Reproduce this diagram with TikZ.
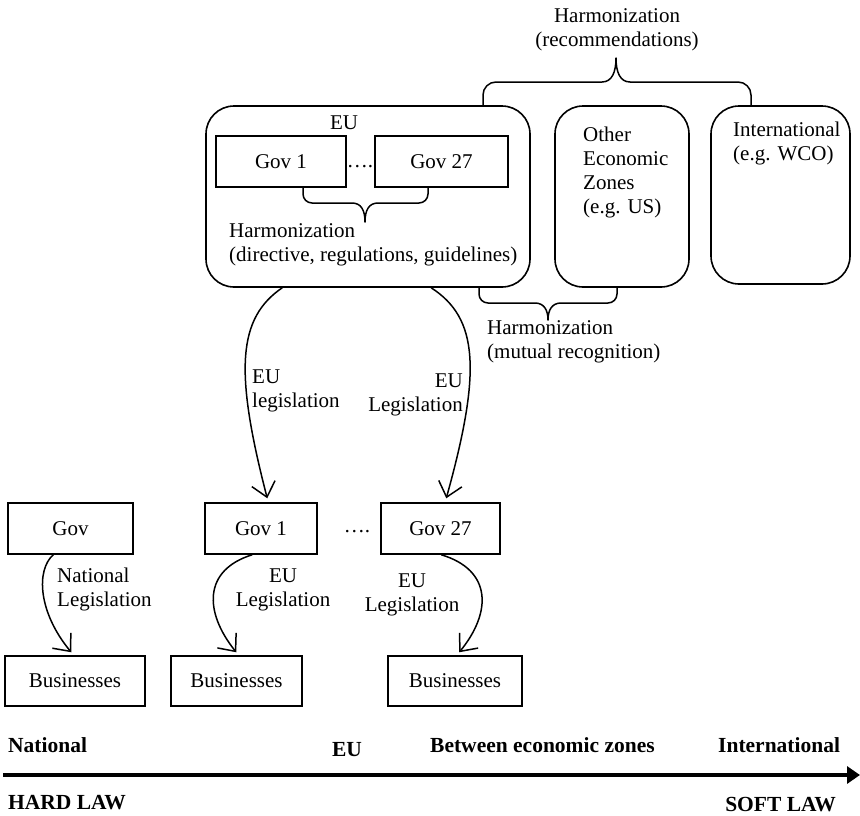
\documentclass[tikz,border=0pt]{standalone}
\usepackage{fontspec}
\setmainfont{Liberation Serif}
\usetikzlibrary{arrows.meta,calc}
\begin{document}
\begin{tikzpicture}[x=1pt,y=-1pt,
  font=\fontsize{21}{24}\selectfont,
  box/.style={draw,line width=1.5pt,inner sep=0pt,minimum height=51pt},
  zone/.style={draw,line width=1.6pt,rounded corners=28pt,inner sep=0pt},
  lbl/.style={inner sep=0pt},
  bl/.style={inner sep=0pt,font=\fontsize{21.5}{24}\selectfont\bfseries},
  brace/.style={line width=1.5pt,line cap=round,line join=round},
  legarrow/.style={line width=1.5pt,-{Straight Barb[length=14pt,width=24pt,line width=1.5pt]}}]
\useasboundingbox (0,0) rectangle (860,815);
% top zones
\node[zone,minimum width=324pt,minimum height=181pt] (eu) at (368,196.5) {};
\node[zone,minimum width=134pt,minimum height=181pt] (other) at (622,196.5) {};
\node[zone,minimum width=139pt,minimum height=178pt] (intl) at (780.5,195) {};
\node[lbl] (eulbl) at (344,123) {EU};
\node[box,minimum width=130pt] (g1) at (281,161.5) {Gov 1};
\node[box,minimum width=133pt] (g27) at (441.5,161.5) {Gov 27};
\node[lbl,anchor=base] (dotsA) at (360,167) {….};
\node[lbl,anchor=west,align=left] (harmEU) at (229,245) {Harmonization\\(directive, regulations, guidelines)};
\node[lbl,anchor=west,align=left] (othertxt) at (583,172) {Other\\Economic\\Zones\\(e.g. US)};
\node[lbl,anchor=west,align=left] (intltxt) at (733,143.5) {International\\(e.g. WCO)};
\node[lbl,align=center] (harmtop) at (617,29.5) {Harmonization\\(recommendations)};
\node[lbl,anchor=west,align=left] (harmmut) at (487,341.5) {Harmonization\\(mutual recognition)};
% braces
\draw[brace] (483,106) -- (483,95) to[out=90,in=180] (496,82) -- (602,82)
  .. controls (612,82) and (616,72) .. (616,58)
  .. controls (616,72) and (620,82) .. (630,82) -- (738,82) to[out=0,in=90] (751,95) -- (751,106);
\draw[brace] (303,187) -- (303,194) to[out=-90,in=180] (312,203) -- (352,203)
  .. controls (361,203) and (365,210) .. (365,222)
  .. controls (365,210) and (369,203) .. (378,203) -- (419,203) to[out=0,in=-90] (428,194) -- (428,187);
\draw[brace] (479,287) -- (479,294) to[out=-90,in=180] (488,303) -- (535,303)
  .. controls (544,303) and (548,310) .. (548,320)
  .. controls (548,310) and (552,303) .. (561,303) -- (608,303) to[out=0,in=-90] (617,294) -- (617,287);
% middle row
\node[box,minimum width=125pt] (gov) at (70.5,528.5) {Gov};
\node[box,minimum width=112pt] (m1) at (261,528.5) {Gov 1};
\node[box,minimum width=119pt] (m27) at (440.5,528.5) {Gov 27};
\node[lbl,anchor=base] (dotsB) at (357,532) {….};
% businesses
\node[box,minimum width=140pt,minimum height=50pt] (b0) at (75,681) {Businesses};
\node[box,minimum width=131pt,minimum height=50pt] (b1) at (236.5,681) {Businesses};
\node[box,minimum width=134pt,minimum height=50pt] (b2) at (455,681) {Businesses};
% EU legislation arrows
\draw[legarrow] ($(eu.south west)+(77,0)$) .. controls (238,318) and (234,370) .. ($(m1.north west)+(63,-4)$);
\draw[legarrow] ($(eu.south west)+(226,0)$) .. controls (478,318) and (482,370) .. ($(m27.north west)+(66,-4)$);
\node[lbl,anchor=west,align=left] (l1) at (252,391) {EU\\legislation};
\node[lbl,anchor=east,align=right] (l2) at (463,395) {EU\\Legislation};
% lower arrows
\draw[legarrow] ($(gov.south west)+(46,0)$) .. controls (36,570) and (38,612) .. ($(b0.north west)+(67,-3)$);
\draw[legarrow] ($(m1.south west)+(48,0)$) .. controls (203,570) and (204,612) .. ($(b1.north west)+(66,-3)$);
\draw[legarrow] ($(m27.south west)+(61,0)$) .. controls (492,570) and (492,612) .. ($(b2.north west)+(72,-3)$);
\node[lbl,anchor=west,align=left] (l3) at (57,589) {National\\Legislation};
\node[lbl,align=center] (l4) at (283,590) {EU\\Legislation};
\node[lbl,align=center] (l5) at (412,595) {EU\\Legislation};
% timeline
\node[bl,anchor=west] (tnat) at (8,745) {National};
\node[bl] (teu) at (347,750) {EU};
\node[bl,anchor=west] (tbet) at (430,745) {Between economic zones};
\node[bl,anchor=west] (tint) at (718,745) {International};
\coordinate (ta) at (3,775);
\coordinate (tb) at (860,775);
\draw[line width=3.2pt,-{Triangle[length=13pt,width=17pt]}] (ta) -- (tb);
\node[bl,anchor=west] (hard) at (8,803) {HARD LAW};
\node[bl,anchor=east] (soft) at (836,805) {SOFT LAW};
\end{tikzpicture}
\end{document}
